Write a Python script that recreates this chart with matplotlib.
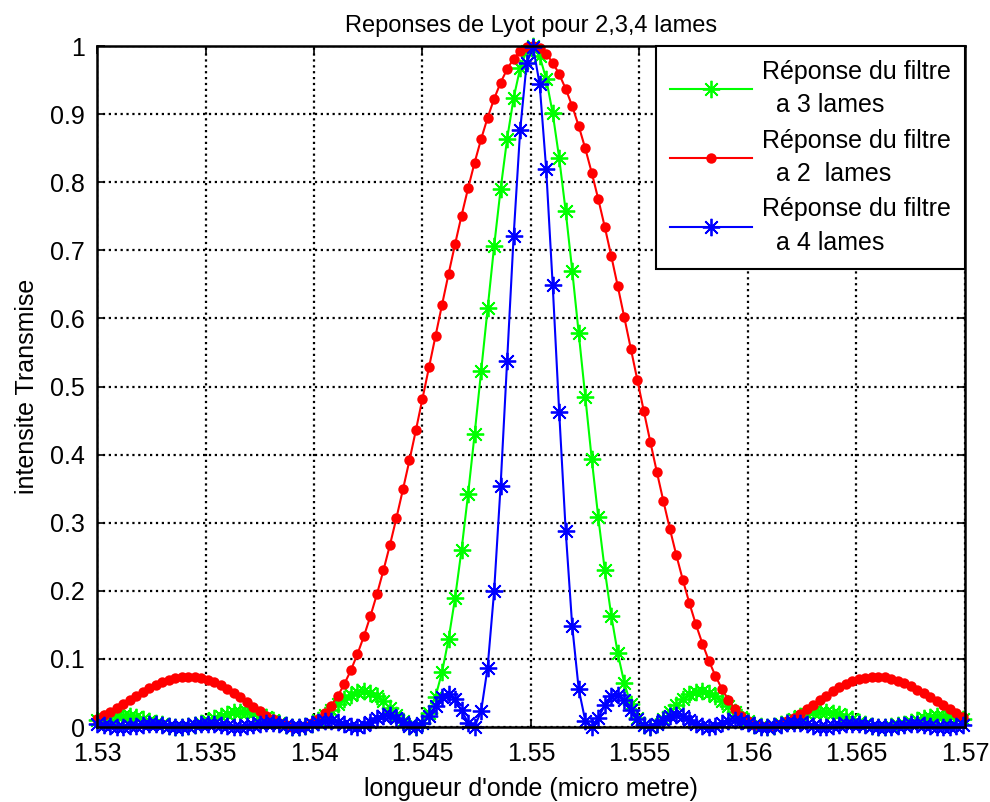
import numpy as np
import matplotlib
matplotlib.use("Agg")
import matplotlib.pyplot as plt

# wavelength grid in micro metre: 1.53 .. 1.5699, step 0.0003
lambda_start = 1.53
lambda_step = 0.0003
n_points = 134
wavelength = lambda_start + lambda_step * np.arange(n_points)

# transmitted intensity
resp_2_lames = [
    .0124, .0172, .0225, .0282, .0341, .0401, .0460, .0517, .0571, .0618,
    .0660, .0694, .0720, .0734, .0740, .0736, .0719, .0693, .0658, .0613,
    .0560, .0500, .0436, .0368, .0300, .0232, .0169, .0112, .0064, .0028,
    .0006, .0001, .0016, .0053, .0114, .0201, .0315, .0458, .0632, .0835,
    .1069, .1334, .1629, .1950, .2301, .2674, .3072, .3490, .3918, .4365,
    .4821, .5283, .5742, .6200, .6651, .7089, .7510, .7910, .8286, .8632,
    .8946, .9224, .9463, .9660, .9814, .9922, .9983,
    .9999, .9964, .9884, .9758, .9586, .9372, .9117, .8825, .8497, .8139,
    .7753, .7344, .6916, .6472, .6018, .5558, .5097, .4639, .4186, .3746,
    .3320, .2910, .2521, .2158, .1818, .1506, .1225, .0972, .0750, .0559,
    .0397, .0266, .0163, .0086, .0035, .0008, .0001, .0013, .0041, .0082,
    .0134, .0194, .0259, .0327, .0396, .0462, .0525, .0582, .0632, .0674,
    .0705, .0727, .0739, .0740, .0729, .0710, .0682, .0644, .0600, .0550,
    .0494, .0436, .0377, .0317, .0259, .0203, .0153,
]

resp_3_lames = [
    .0100, .0125, .0146, .0159, .0162, .0156, .0141, .0119, .0092, .0064,
    .0037, .0016, .0003, .0001, .0009, .0028, .0057, .0091, .0129, .0165,
    .0195, .0217, .0227, .0223, .0207, .0178, .0141, .0100, .0060, .0027,
    .0006, .0001, .0016, .0051, .0105, .0174, .0253, .0335, .0411, .0473,
    .0513, .0524, .0505, .0454, .0376, .0280, .0177, .0085, .0020, .0004,
    .0057, .0199, .0445, .0806, .1287, .1891, .2605, .3416, .4296, .5221,
    .6154, .7059, .7898, .8635, .9236, .9675, .9930,
    .9996, .9850, .9520, .9014, .8354, .7572, .6703, .5781, .4847, .3934,
    .3082, .2308, .1637, .1081, .0647, .0333, .0131, .0027, .0003, .0041,
    .0119, .0218, .0320, .0410, .0478, .0516, .0522, .0499, .0450, .0382,
    .0302, .0221, .0145, .0081, .0034, .0008, .0001, .0013, .0039, .0076,
    .0117, .0157, .0191, .0215, .0227, .0225, .0210, .0184, .0151, .0114,
    .0077, .0044, .0020, .0005, .0001, .0008, .0024, .0047, .0075, .0103,
    .0129, .0148, .0160, .0162, .0155, .0138, .0116,
]

resp_4_lames = [
    .0037, .0026, .0013, .0003, .0001, .0008, .0021, .0034, .0042, .0040,
    .0029, .0015, .0003, .0001, .0009, .0024, .0040, .0049, .0047, .0035,
    .0018, .0004, .0001, .0011, .0030, .0051, .0064, .0062, .0047, .0024,
    .0006, .0001, .0015, .0043, .0074, .0094, .0094, .0072, .0038, .0009,
    .0002, .0025, .0073, .0129, .0169, .0174, .0138, .0076, .0019, .0004,
    .0054, .0169, .0315, .0438, .0480, .0409, .0244, .0064, .0006, .0229,
    .0871, .1990, .3545, .5372, .7207, .8760, .9744,
    .9984, .9436, .8194, .6492, .4623, .2878, .1482, .0556, .0095, .0004,
    .0130, .0319, .0451, .0476, .0395, .0255, .0116, .0026, .0003, .0039,
    .0102, .0156, .0177, .0156, .0107, .0051, .0012, .0002, .0019, .0052,
    .0083, .0097, .0088, .0062, .0031, .0007, .0001, .0012, .0034, .0054,
    .0065, .0060, .0043, .0022, .0005, .0001, .0009, .0025, .0041, .0050,
    .0047, .0034, .0017, .0004, .0001, .0007, .0021, .0034, .0042, .0040,
    .0029, .0015, .0004, .0001, .0006, .0018, .0031,
]

x_ticks = [1.53, 1.535, 1.54, 1.545, 1.55, 1.555, 1.56, 1.565, 1.57]
y_ticks = [0, 0.1, 0.2, 0.3, 0.4, 0.5, 0.6, 0.7, 0.8, 0.9, 1]

labels = [
    "Réponse du filtre\n  a 3 lames",
    "Réponse du filtre\n  a 2  lames",
    "Réponse du filtre\n  a 4 lames",
]

plt.rcParams["font.family"] = ["Liberation Sans", "DejaVu Sans"]

# asterisk marker like matlab '*'
star = (8, 2, 0)

fig = plt.figure(figsize=(9.9, 8.02), dpi=100)
ax = fig.add_axes([0.098, 0.0935, 0.8767, 0.8491])

ax.plot(wavelength, resp_3_lames, "-", color="#00ff00", lw=1.5,
        marker=star, ms=12.5, mew=1.3, label=labels[0], clip_on=False)
ax.plot(wavelength, resp_2_lames, "-", color="#ff0000", lw=1.5,
        marker="o", ms=7.5, mew=0, label=labels[1], clip_on=False)
ax.plot(wavelength, resp_4_lames, "-", color="#0000ff", lw=1.5,
        marker=star, ms=12.5, mew=1.3, label=labels[2], clip_on=False)

ax.set_xlim(1.53, 1.57)
ax.set_ylim(0, 1)
ax.set_xticks(x_ticks)
ax.set_xticklabels(["%g" % v for v in x_ticks])
ax.set_yticks(y_ticks)
ax.set_yticklabels(["%g" % v for v in y_ticks])
ax.tick_params(direction="in", top=True, right=True, length=6, width=1.2,
               labelsize=18)
ax.tick_params(axis="x", pad=11)
ax.tick_params(axis="y", pad=9)
for sp in ax.spines.values():
    sp.set_linewidth(1.8)

ax.grid(True, color="k", linestyle=":", linewidth=1.6)
ax.set_axisbelow(True)

ax.set_title("Reponses de Lyot pour 2,3,4 lames", fontsize=17, pad=10)
ax.set_xlabel("longueur d'onde (micro metre)", fontsize=18, labelpad=8)
ax.set_ylabel("intensite Transmise", fontsize=18, labelpad=8)

leg = ax.legend(loc="upper right", borderaxespad=0, fontsize=18,
                fancybox=False, framealpha=1, edgecolor="k",
                handlelength=3.3, handletextpad=0.4, numpoints=1,
                labelspacing=0.45, borderpad=0.55)
leg.get_frame().set_linewidth(1.5)
for t in leg.get_texts():
    t.set_linespacing(1.5)

fig.savefig("out.png", dpi=100)
